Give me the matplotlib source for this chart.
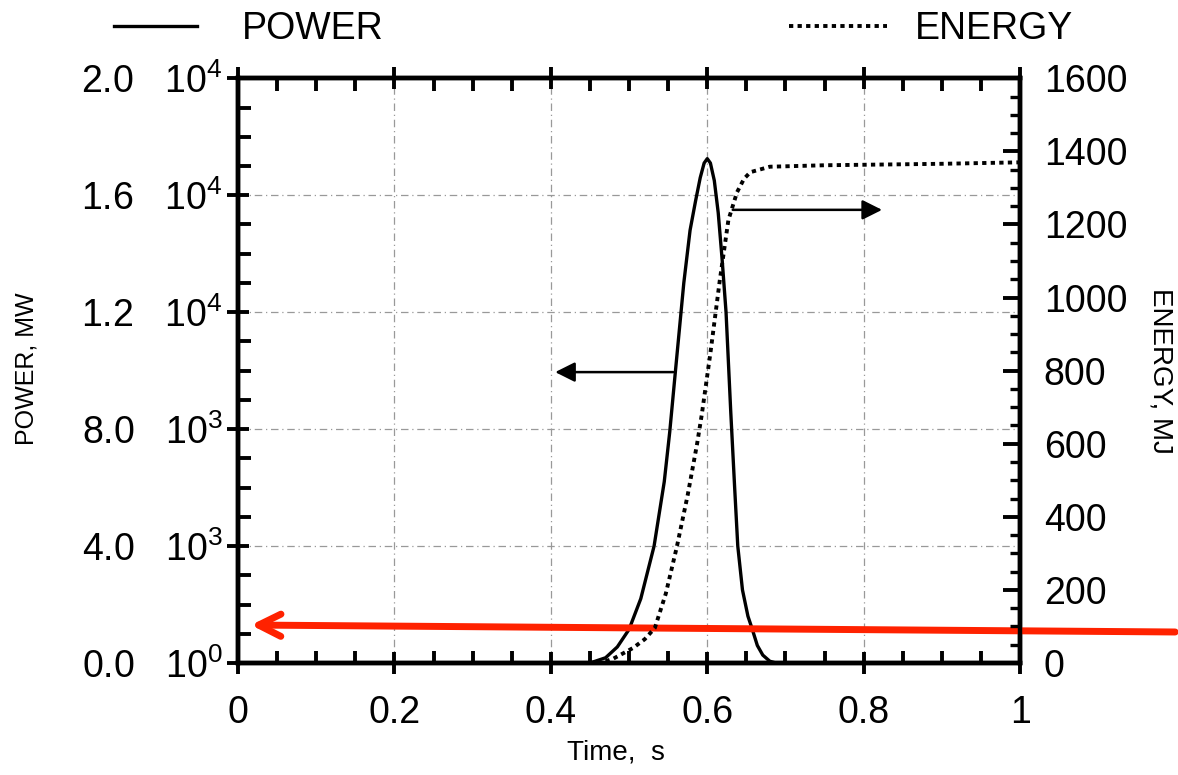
import matplotlib
matplotlib.use('agg')
import matplotlib.pyplot as plt
from matplotlib.ticker import FixedLocator, MultipleLocator

plt.rcParams['font.family'] = ['Liberation Sans', 'DejaVu Sans']
plt.rcParams['mathtext.fontset'] = 'custom'
plt.rcParams['mathtext.rm'] = 'Liberation Sans'
plt.rcParams['mathtext.it'] = 'Liberation Sans'

# power trace (MW)
t_power = [0.0, 0.45, 0.47, 0.485, 0.50, 0.515, 0.532, 0.545, 0.552, 0.559,
           0.57, 0.578, 0.585, 0.591, 0.596, 0.60, 0.604, 0.609, 0.614, 0.619,
           0.624, 0.630, 0.635, 0.639, 0.645, 0.652, 0.657, 0.664, 0.671, 0.68,
           0.688, 1.0]
power = [0, 0, 180, 550, 1150, 2200, 4000, 6200, 7900, 9900,
         13000, 14800, 15800, 16600, 17100, 17250, 17100, 16500, 15400, 13800,
         12000, 8600, 6000, 4000, 2500, 1600, 1200, 600, 270, 60,
         0, 0]

# energy trace (MJ)
t_energy = [0.0, 0.463, 0.48, 0.505, 0.52, 0.533, 0.547, 0.561, 0.575, 0.587,
            0.593, 0.604, 0.616, 0.627, 0.638, 0.647, 0.655, 0.68, 0.75, 0.9, 1.0]
energy = [0, 0, 12, 41, 65, 96, 190, 317, 460, 600,
          680, 848, 1047, 1212, 1288, 1325, 1343, 1358, 1362, 1366, 1370]

power_ticks = [0, 4000, 8000, 12000, 16000, 20000]
power_labels = [r'0.0   $10^0$', r'4.0   $10^3$', r'8.0   $10^3$',
                r'1.2   $10^4$', r'1.6   $10^4$', r'2.0   $10^4$']
time_ticks = [0, 0.2, 0.4, 0.6, 0.8, 1.0]
time_labels = ['0', '0.2', '0.4', '0.6', '0.8', '1']
energy_ticks = [0, 200, 400, 600, 800, 1000, 1200, 1400, 1600]

fig = plt.figure(figsize=(11.78, 7.75), dpi=100)
ax = fig.add_axes([0.202, 0.1445, 0.664, 0.7545])
ax2 = ax.twinx()

ax.plot(t_power, power, color='black', lw=2.4, label='POWER')
ax2.plot(t_energy, energy, color='black', lw=2.8, linestyle=(0, (1.1, 1.1)), label='ENERGY')

ax.set_xlim(0, 1)
ax.set_ylim(0, 20000)
ax2.set_ylim(0, 1600)

ax.xaxis.set_major_locator(FixedLocator(time_ticks))
ax.set_xticklabels(time_labels)
ax.xaxis.set_minor_locator(MultipleLocator(0.05))
ax.yaxis.set_major_locator(FixedLocator(power_ticks))
ax.set_yticklabels(power_labels)
ax.yaxis.set_minor_locator(MultipleLocator(1000))
ax2.yaxis.set_major_locator(FixedLocator(energy_ticks))
ax2.yaxis.set_minor_locator(MultipleLocator(50))

ax.tick_params(axis='both', which='major', direction='inout', length=16, width=2.8,
               labelsize=27, top=True)
ax.tick_params(axis='x', which='major', pad=15)
ax.tick_params(axis='y', which='major', pad=3)
ax.tick_params(axis='both', which='minor', direction='in', length=9, width=2.8, top=True)
ax.tick_params(axis='y', which='both', right=False)
ax2.tick_params(axis='y', which='major', direction='in', length=12, width=2.8,
                labelsize=27, pad=17)
ax2.tick_params(axis='y', which='minor', direction='in', length=7, width=2.4)

for a in (ax, ax2):
    for s in a.spines.values():
        s.set_linewidth(3.2)

ax.grid(True, which='major', color='#999999', lw=0.9, linestyle=(0, (6, 3, 1, 3)))
ax.set_axisbelow(True)

ax.set_xlabel('Time,  s', fontsize=20)
ax.xaxis.set_label_coords(0.483, -0.13)
ax.set_ylabel('POWER, MW', fontsize=18)
ax.yaxis.set_label_coords(-0.255, 0.504)
ax2.set_ylabel('ENERGY, MJ', fontsize=20, rotation=-90, va='center')
ax2.yaxis.set_label_coords(1.179, 0.5)

# curve-pointing arrows
ax.annotate('', xy=(0.402, 9950), xytext=(0.56, 9950),
            arrowprops=dict(arrowstyle='-|>', color='black', lw=1.8, mutation_scale=30))
ax.annotate('', xy=(0.827, 15500), xytext=(0.629, 15500),
            arrowprops=dict(arrowstyle='-|>', color='black', lw=1.8, mutation_scale=30))

# red annotation arrow
ax.annotate('', xy=(0.013, 1300), xycoords='data', xytext=(1.0, 0.1845),
            textcoords='figure fraction', annotation_clip=False,
            arrowprops=dict(arrowstyle='->', color='#ff2200', lw=5, mutation_scale=40))

h1, l1 = ax.get_legend_handles_labels()
h2, l2 = ax2.get_legend_handles_labels()
fig.legend(h1, l1, loc='center left', bbox_to_anchor=(0.097, 0.962), frameon=False,
           fontsize=27, handlelength=2.2, handletextpad=1.2, borderpad=0, borderaxespad=0)
fig.legend(h2, l2, loc='center left', bbox_to_anchor=(0.67, 0.962), frameon=False,
           fontsize=27, handlelength=2.6, handletextpad=0.75, borderpad=0, borderaxespad=0)

fig.savefig('out.png', dpi=100)
